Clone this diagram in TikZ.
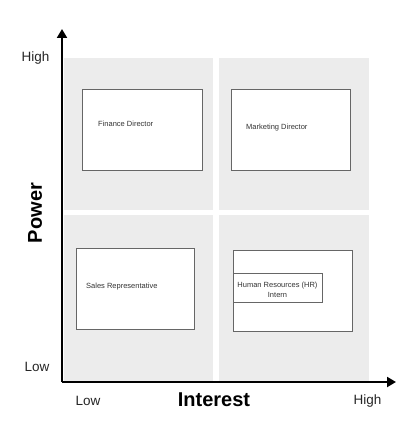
\documentclass[tikz,border=0pt]{standalone}
\usepackage{fontspec}
\setmainfont{Liberation Sans}
\usetikzlibrary{arrows.meta}
\definecolor{quad}{HTML}{ECECEC}
\definecolor{boxline}{HTML}{666666}
\tikzset{
  quadrant/.style={fill=quad, draw=none},
  stakebox/.style={draw=boxline, fill=white, line width=0.8pt},
  boxtext/.style={font=\fontsize{7.5}{8.5}\selectfont, text=black!80, inner sep=0pt},
  axislabel/.style={font=\fontsize{13.5}{15}\selectfont, text=black!85, inner sep=0pt},
  axistitle/.style={font=\bfseries\fontsize{20}{22}\selectfont, inner sep=0pt},
  axisline/.style={line width=2pt, -{Triangle[length=9pt,width=10pt]}}
}
\begin{document}
\begin{tikzpicture}[x=1pt,y=-1pt]
\useasboundingbox (0,0) rectangle (404,425);
\fill[white] (0,0) rectangle (404,425);
% quadrants
\fill[quadrant] (64,58) rectangle (213,210);
\fill[quadrant] (219,58) rectangle (369,210);
\fill[quadrant] (64,215) rectangle (213,381);
\fill[quadrant] (219,215) rectangle (369,381);
% boxes
\node[stakebox, minimum width=120pt, minimum height=81pt, anchor=north west, inner sep=0pt] (fd) at (82,89) {};
\node[boxtext, anchor=west] (fdt) at (98,124) {Finance Director};
\node[stakebox, minimum width=119pt, minimum height=81pt, anchor=north west, inner sep=0pt] (md) at (231,89) {};
\node[boxtext, anchor=west] (mdt) at (246,128) {Marketing Director};
\node[stakebox, minimum width=118pt, minimum height=81pt, anchor=north west, inner sep=0pt] (sr) at (76,248) {};
\node[boxtext, anchor=west] (srt) at (86,287) {Sales Representative};
\node[stakebox, minimum width=119pt, minimum height=81pt, anchor=north west, inner sep=0pt] (hr) at (233,250) {};
\node[draw=boxline, fill=white, line width=0.6pt, minimum width=89pt, minimum height=29pt, anchor=north west, inner sep=0pt] (hri) at (233,273) {};
\node[boxtext, align=center, font=\fontsize{7.5}{10}\selectfont] (hrt) at (277.5,290) {Human Resources (HR)\\Intern};
% axes
\coordinate (origin) at (62,382);
\coordinate (ytip) at (62,29);
\coordinate (xtip) at (396,382);
\draw[axisline] (origin) -- (ytip);
\draw[axisline] (origin) -- (xtip);
% labels
\node[axislabel] (yhigh) at (35.5,58) {High};
\node[axislabel] (ylow) at (37,367) {Low};
\node[axistitle, rotate=90] (power) at (35,213) {Power};
\node[axislabel] (xlow) at (88,401) {Low};
\node[axistitle] (interest) at (214,400) {Interest};
\node[axislabel] (xhigh) at (367.5,401) {High};
\end{tikzpicture}
\end{document}
